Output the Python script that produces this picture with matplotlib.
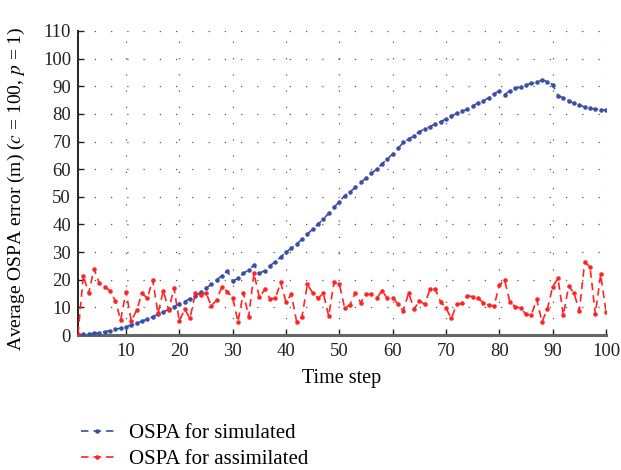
import numpy as np
import matplotlib
matplotlib.use("Agg")
import matplotlib.pyplot as plt

time_step = list(range(1, 101))

ospa_simulated = [
    0.0, 0.2, 0.4, 0.6, 0.9, 1.2, 1.6, 2.0, 2.5, 3.0,
    3.6, 4.2, 5.0, 5.8, 6.6, 7.5, 8.3, 9.3, 10.3, 11.2,
    12.1, 13.2, 14.2, 15.4, 17.0, 18.3, 19.9, 21.5, 23.2, 19.5,
    20.5, 22.3, 23.5, 25.3, 22.3, 23.3, 25.1, 26.5, 28.2, 30.0,
    31.4, 32.9, 34.7, 36.5, 38.3, 40.1, 41.9, 44.1, 46.2, 48.3,
    50.4, 51.8, 53.4, 55.2, 56.8, 58.5, 60.0, 61.9, 63.7, 65.5,
    67.5, 69.7, 70.9, 72.1, 73.6, 74.5, 75.4, 76.4, 77.2, 78.2,
    79.1, 80.2, 80.9, 81.8, 82.8, 84.0, 84.8, 85.8, 87.2, 88.4,
    87.0, 88.4, 89.3, 89.6, 90.5, 91.1, 91.4, 92.3, 91.7, 90.6,
    86.6, 85.8, 84.8, 83.8, 83.4, 82.4, 82.0, 81.8, 81.5, 81.4,
]

ospa_assimilated = [
    0.3, 21.5, 15.1, 23.9, 18.7, 17.5, 16.0, 12.4, 5.4, 15.7,
    5.0, 9.0, 15.1, 13.3, 19.9, 7.8, 16.0, 9.0, 17.0, 5.0,
    9.3, 6.0, 15.1, 14.5, 15.3, 10.5, 12.7, 17.5, 15.7, 13.5,
    4.8, 15.3, 6.6, 22.3, 13.6, 16.5, 13.1, 13.3, 19.0, 12.0,
    14.7, 4.8, 6.6, 18.3, 15.3, 13.3, 15.1, 6.9, 19.0, 18.5,
    9.7, 10.9, 15.3, 11.7, 14.7, 14.7, 13.3, 16.0, 13.3, 13.5,
    11.2, 8.8, 15.3, 9.3, 12.4, 11.1, 16.5, 16.5, 12.0, 9.7,
    6.0, 11.1, 11.4, 14.2, 13.9, 13.3, 11.7, 10.9, 10.5, 18.0,
    19.9, 11.8, 10.3, 9.7, 7.5, 7.2, 12.9, 4.8, 9.3, 17.5,
    20.5, 7.1, 17.8, 15.1, 8.8, 26.3, 24.7, 7.6, 21.9, 8.4,
]

x_ticks = list(range(10, 101, 10))
y_ticks = list(range(0, 111, 10))

labels = ["OSPA for simulated", "OSPA for assimilated"]
blue = "#3a4fa6"
red = "#ff2424"

plt.rcParams["font.family"] = ["Liberation Serif", "DejaVu Serif"]
plt.rcParams["mathtext.fontset"] = "stix"

fig = plt.figure(figsize=(6.21, 4.70), dpi=100)
ax = fig.add_axes([78 / 621, 1 - 335 / 470, (606 - 78) / 621, (335 - 31) / 470])

dash = (0, (4.5, 3))
ax.plot(time_step, ospa_simulated, color=blue, linestyle=dash, linewidth=1.2,
        marker=".", markersize=4.5, label=labels[0], zorder=3)
ax.plot(time_step, ospa_assimilated, color=red, linestyle=dash, linewidth=1.2,
        marker=".", markersize=4.5, label=labels[1], zorder=3)

ax.set_xlim(1, 100)
ax.set_ylim(0, 110)
ax.set_xticks(x_ticks)
ax.set_yticks(y_ticks)
ax.tick_params(direction="in", length=4, width=1, labelsize=13.5, colors="#222222")
ax.tick_params(axis="x", pad=6)
ax.tick_params(axis="y", pad=5)

ax.grid(True, color="#555555", linestyle=(0, (1, 12)), linewidth=0.9)
ax.set_axisbelow(True)
for s in ["top", "right"]:
    ax.spines[s].set_visible(False)
ax.spines["left"].set_linewidth(1.4)
ax.spines["left"].set_color("#222222")
ax.spines["bottom"].set_linewidth(2.2)
ax.spines["bottom"].set_color("#666666")

ax.set_xlabel("Time step", fontsize=14.5, labelpad=6)
ax.set_ylabel(r"Average OSPA error (m) ($c$ = 100, $p$ = 1)", fontsize=14)
ax.yaxis.set_label_coords(-0.097, 0.48)

fig.legend(loc="upper left", bbox_to_anchor=(62 / 621, 1 - 405 / 470),
           frameon=False, fontsize=15, numpoints=1, handlelength=1.6,
           handletextpad=0.72, labelspacing=0.3)

fig.savefig("out.png", dpi=100)
